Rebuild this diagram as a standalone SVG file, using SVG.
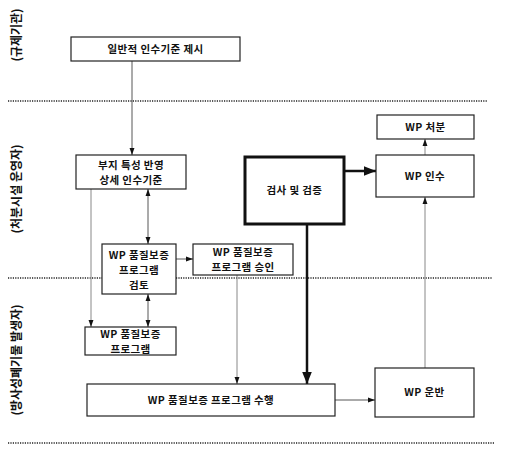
<svg xmlns="http://www.w3.org/2000/svg" width="509" height="455" viewBox="0 0 509 455">
<style>
text{font-family:"Noto Sans CJK KR","Noto Sans",sans-serif;font-weight:bold;font-size:10.5px;letter-spacing:0.4px;fill:#111;text-anchor:middle}
.side{font-size:12px;letter-spacing:0}
.box{fill:#fff;stroke:#222;stroke-width:1.2}
.thick{fill:#fff;stroke:#111;stroke-width:3}
.dot{stroke:#222;stroke-width:1.6;stroke-dasharray:1.2 1.2;fill:none}
.ln{stroke:#444;stroke-width:0.9;fill:none}
.lg{stroke:#888;stroke-width:1;fill:none}
.tk{stroke:#111;stroke-width:2.5;fill:none}
</style>
<defs>
<marker id="a" viewBox="0 0 10 10" refX="10" refY="5" markerWidth="7" markerHeight="7" markerUnits="userSpaceOnUse" orient="auto-start-reverse"><path d="M0,1.5 L10,5 L0,8.5z" fill="#111"/></marker>
<marker id="b" viewBox="0 0 10 10" refX="10" refY="5" markerWidth="5" markerHeight="5" markerUnits="strokeWidth" orient="auto"><path d="M0,1 L10,5 L0,9z" fill="#111"/></marker>
</defs>
<g id="lanes">
<line class="dot" x1="8" y1="101" x2="487" y2="101"/>
<line class="dot" x1="8" y1="278" x2="492" y2="278"/>
<line class="dot" x1="8" y1="443" x2="495" y2="443"/>
<text class="side" transform="translate(21,35) rotate(-90)">(규제기관)</text>
<text class="side" transform="translate(21,189) rotate(-90)">(처분시설 운영자)</text>
<text class="side" transform="translate(21,360) rotate(-90)">(방사성폐기물 발생자)</text>
</g>
<g id="connectors">
<line class="ln" x1="132" y1="61" x2="132" y2="155" marker-end="url(#a)"/>
<line class="ln" x1="148" y1="189" x2="148" y2="244" marker-start="url(#a)" marker-end="url(#a)"/>
<line class="ln" x1="148" y1="294" x2="148" y2="327" marker-start="url(#a)" marker-end="url(#a)"/>
<line class="lg" x1="91" y1="189" x2="91" y2="327" marker-end="url(#a)"/>
<line class="ln" x1="176" y1="259" x2="193" y2="259" marker-end="url(#a)"/>
<line class="lg" x1="237" y1="275" x2="237" y2="384" marker-end="url(#a)"/>
<line class="tk" x1="307" y1="224" x2="307" y2="384" marker-end="url(#b)"/>
<line class="tk" x1="344" y1="171" x2="376" y2="171" marker-end="url(#b)"/>
<line class="lg" x1="425" y1="155" x2="425" y2="139" marker-end="url(#a)"/>
<line class="lg" x1="425" y1="368" x2="425" y2="197" marker-end="url(#a)"/>
<line class="ln" x1="335" y1="400" x2="375" y2="400" marker-end="url(#a)"/>
</g>
<g id="n1"><rect class="box" x="71" y="37" width="169" height="24"/><text x="155.5" y="53">일반적 인수기준 제시</text></g>
<g id="n2"><rect class="box" x="76" y="155" width="110" height="34"/><text x="131" y="169">부지 특성 반영</text><text x="131" y="184">상세 인수기준</text></g>
<g id="n3"><rect class="box" x="102" y="244" width="74" height="50"/><text x="139" y="259">WP 품질보증</text><text x="139" y="274">프로그램</text><text x="139" y="289">검토</text></g>
<g id="n4"><rect class="box" x="193" y="244" width="100" height="31"/><text x="243" y="256">WP 품질보증</text><text x="243" y="271">프로그램 승인</text></g>
<g id="n5"><rect class="box" x="85" y="327" width="91" height="28"/><text x="130.5" y="338">WP 품질보증</text><text x="130.5" y="353">프로그램</text></g>
<g id="n6"><rect class="box" x="87" y="384" width="248" height="32"/><text x="211" y="404">WP 품질보증 프로그램 수행</text></g>
<g id="n7"><rect class="thick" x="245" y="157" width="99" height="67"/><text x="294.5" y="194">검사 및 검증</text></g>
<g id="n8"><rect class="box" x="376" y="155" width="98" height="42"/><text x="425" y="180">WP 인수</text></g>
<g id="n9"><rect class="box" x="377" y="115" width="97" height="24"/><text x="425.5" y="131">WP 처분</text></g>
<g id="n10"><rect class="box" x="375" y="368" width="99" height="49"/><text x="424.5" y="396">WP 운반</text></g>
</svg>
